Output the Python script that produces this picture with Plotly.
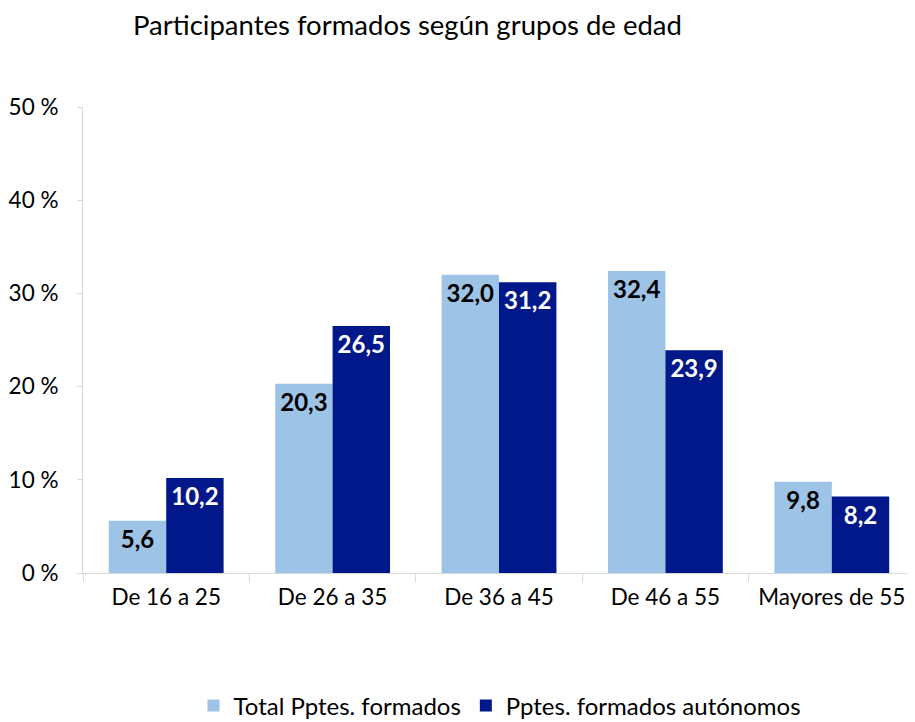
import plotly.graph_objects as go

categories = ["De 16 a 25", "De 26 a 35", "De 36 a 45", "De 46 a 55", "Mayores de 55"]
total_formados = [5.6, 20.3, 32.0, 32.4, 9.8]
autonomos = [10.2, 26.5, 31.2, 23.9, 8.2]
series_names = ["Total Pptes. formados", "Pptes. formados autónomos"]
y_tickvals = [0, 10, 20, 30, 40, 50]
y_ticktext = ["0 %", "10 %", "20 %", "30 %", "40 %", "50 %"]
title_text = "Participantes formados según grupos de edad"

FONT = "Lato, Open Sans, sans-serif"
# the HTML body adds an 8px margin; size the figure to fit the window
OFF = 8
W, H = 915 - OFF, 722 - OFF

def fmt(v):
    return f"{v:.1f}".replace(".", ",")

fig = go.Figure()
fig.add_trace(go.Bar(
    x=categories, y=total_formados, name=series_names[0],
    marker=dict(color="#9DC3E6", line=dict(width=0)),
    text=[fmt(v) for v in total_formados],
    textposition="inside", insidetextanchor="end", constraintext="none",
    textfont=dict(family=FONT, size=24, color="#000000", weight="bold"),
    hoverinfo="skip",
))
fig.add_trace(go.Bar(
    x=categories, y=autonomos, name=series_names[1],
    marker=dict(color="#00188A", line=dict(width=0)),
    text=[fmt(v) for v in autonomos],
    textposition="inside", insidetextanchor="end", constraintext="none",
    textfont=dict(family=FONT, size=24, color="#FFFFFF", weight="bold"),
    hoverinfo="skip",
))

fig.update_layout(
    width=W, height=H,
    margin=dict(l=83 - OFF, r=0, t=107 - OFF, b=H - (573 - OFF), autoexpand=False),
    paper_bgcolor="white", plot_bgcolor="white",
    barmode="group", bargap=0.31, bargroupgap=0,
    font=dict(family=FONT, size=22, color="#000000"),
    title=dict(text=title_text, x=(133 - OFF) / W, xanchor="left", xref="container",
               y=1 - (25 - OFF) / H, yanchor="middle", yref="container",
               font=dict(family=FONT, size=27.5, color="#000000")),
    legend=dict(orientation="h", x=(500 - OFF) / W, xanchor="center", xref="container",
                y=1 - (706 - OFF) / H, yanchor="middle", yref="container",
                font=dict(family=FONT, size=24, color="#000000"),
                itemwidth=30, traceorder="normal", tracegroupgap=0),
    showlegend=True,
)
fig.update_xaxes(
    showline=True, linecolor="#D9D9D9", linewidth=1,
    ticks="outside", tickson="boundaries", ticklen=8, tickcolor="#D9D9D9",
    showgrid=False, tickfont=dict(family=FONT, size=22.5, color="#000000"),
    ticklabelstandoff=4, automargin=False,
)
fig.update_yaxes(
    range=[0, 50], tickvals=y_tickvals, ticktext=y_ticktext,
    showline=True, linecolor="#D9D9D9", linewidth=1,
    ticks="outside", ticklen=5, tickcolor="#D9D9D9",
    showgrid=False, zeroline=False,
    tickfont=dict(family=FONT, size=22.5, color="#000000"),
    ticklabelstandoff=14, automargin=False,
)

fig.write_html("out.html")
